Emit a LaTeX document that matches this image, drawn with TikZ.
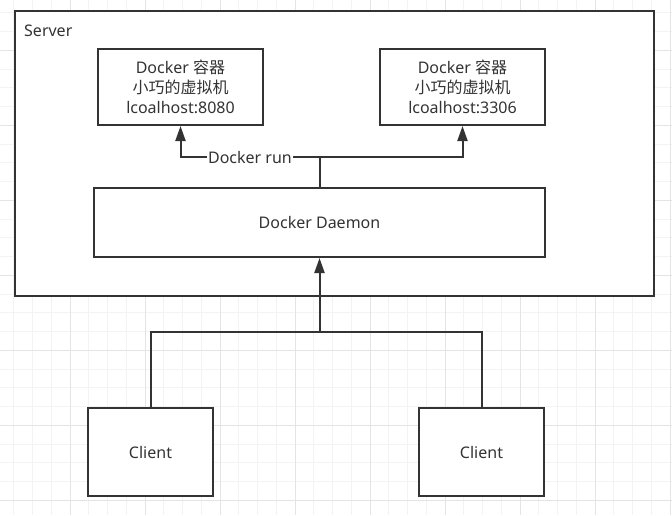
\documentclass[tikz,border=0pt]{standalone}
\usepackage{fontspec}
\setmainfont{Noto Sans}
\newfontfamily\cjk{Noto Sans CJK SC}
\usepackage{xcolor}
\usetikzlibrary{arrows.meta,positioning}
\definecolor{ink}{HTML}{333333}
\definecolor{gridminor}{HTML}{F3F3F3}
\definecolor{gridmajor}{HTML}{E4E4E4}

\begin{document}
\begin{tikzpicture}[
    x=1pt, y=-1pt,
    box/.style={rectangle, draw=ink, line width=2pt, fill=white,
                text=ink, align=center, inner sep=0pt,
                font=\fontsize{16}{20}\selectfont},
    link/.style={draw=ink, line width=2pt},
    arrowlink/.style={link, -{Triangle[length=15pt, width=10pt]}},
    minorgrid/.style={gridminor, line width=1pt},
    majorgrid/.style={gridmajor, line width=1pt}
]
\useasboundingbox (0,0) rectangle (672,515);

% Background grid
\foreach \i in {0,...,35}
    \draw[minorgrid] ({13.75+18.75*\i},0) -- ({13.75+18.75*\i},515);
\foreach \j in {0,...,26}
    \draw[minorgrid] (0,{12.8+18.75*\j}) -- (672,{12.8+18.75*\j});
\foreach \gx in {70,145,...,670}
    \draw[majorgrid] (\gx,0) -- (\gx,515);
\foreach \gy in {50.3,125.3,...,500.3}
    \draw[majorgrid] (0,\gy) -- (672,\gy);

% Server
\node[box, minimum width=639pt, minimum height=285pt] (server) at (334.5,153.5) {};
\node[text=ink, anchor=west, inner sep=0pt, font=\fontsize{16}{20}\selectfont] (serverlabel) at (24,31) {Server};

% Containers
\node[box, minimum width=165pt, minimum height=76pt] (c1) at (180.5,87)
    {Docker \cjk{容器}\\\cjk{小巧的虚拟机}\\lcoalhost:8080};
\node[box, minimum width=165pt, minimum height=76pt] (c2) at (462.5,87)
    {Docker \cjk{容器}\\\cjk{小巧的虚拟机}\\lcoalhost:3306};

% Daemon
\node[box, minimum width=451pt, minimum height=69pt] (daemon) at (319.5,222.5) {Docker Daemon};

% Clients
\node[box, minimum width=125pt, minimum height=88pt] (client1) at (150.5,452) {Client};
\node[box, minimum width=125pt, minimum height=88pt] (client2) at (481.5,452) {Client};

% Docker run
\coordinate (run) at (319.5,157);
\draw[link] (daemon.north) -- (run);
\draw[arrowlink] (run) -| node[pos=0.25, fill=white, text=ink, inner sep=1pt,
    font=\fontsize{16}{20}\selectfont] {Docker run} (c1.south);
\draw[arrowlink] (run) -| (c2.south);

% Requests
\coordinate (join) at (319.5,332);
\draw[link] (client1.north) |- (join);
\draw[link] (client2.north) |- (join);
\draw[arrowlink] (join) -- (daemon.south);

\end{tikzpicture}
\end{document}
